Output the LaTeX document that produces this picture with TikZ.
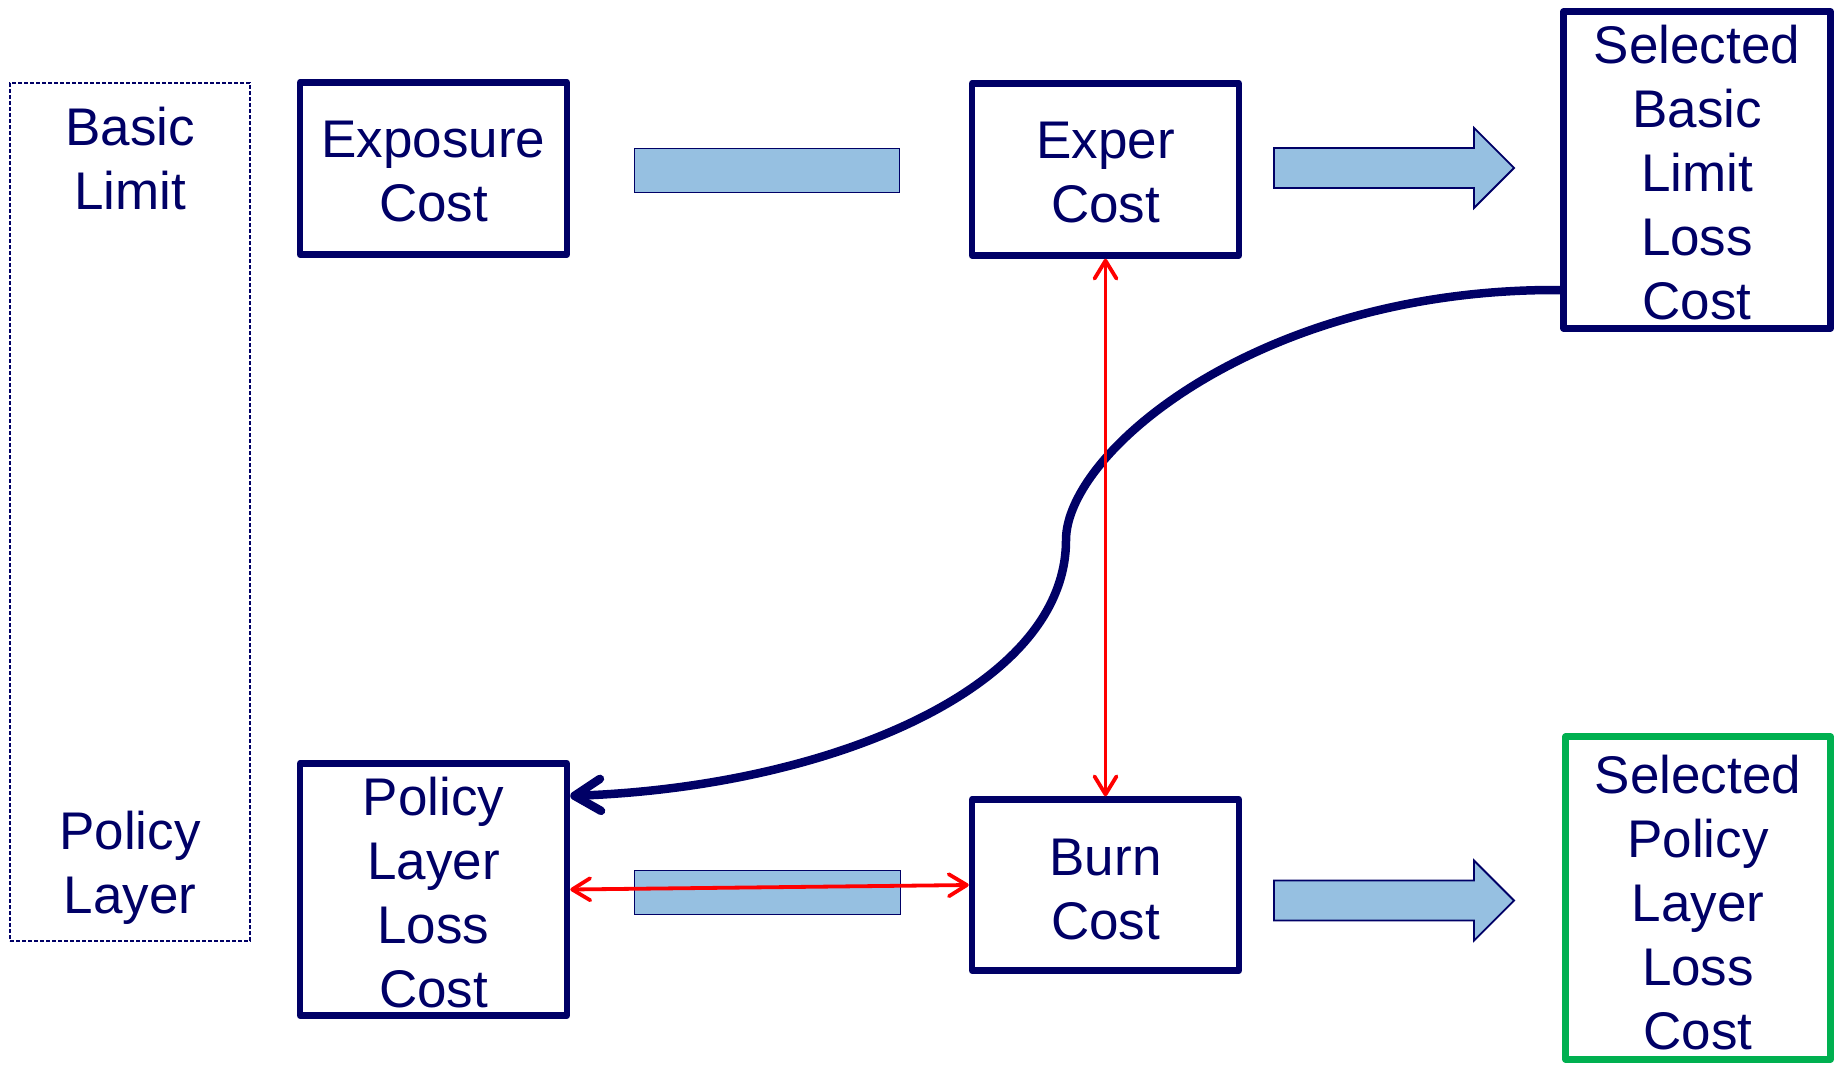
\documentclass[tikz,border=0pt]{standalone}
\usepackage{fontspec}
\setmainfont{Liberation Sans}
\usetikzlibrary{arrows.meta,calc}
\definecolor{navy}{RGB}{0,0,102}
\definecolor{barblue}{RGB}{150,192,225}
\definecolor{okgreen}{RGB}{0,176,80}
\definecolor{linkred}{RGB}{255,0,0}
\begin{document}
\begin{tikzpicture}[x=1pt,y=-1pt,
  lbl/.style={text=navy,align=center,font=\fontsize{53}{64}\selectfont,inner sep=0pt},
  costbox/.style={draw=navy,line width=6.5pt,line join=round,minimum width=267pt,inner sep=0pt},
  bar/.style={draw=navy,fill=barblue,line width=1.8pt,minimum width=265pt,minimum height=44pt,inner sep=0pt},
  flow/.style={draw=navy,fill=barblue,line width=1.8pt,line join=miter},
  link/.style={draw=linkred,line width=3.8pt,{Straight Barb[length=18pt,width=22pt,round]}-{Straight Barb[length=18pt,width=22pt,round]}},
  feedback/.style={draw=navy,line width=8.5pt,-{Straight Barb[length=26pt,width=32pt,round]}}]
\useasboundingbox (0,0) rectangle (1841,1067);

% level frame on the left
\node[draw=navy,line width=1.6pt,dash pattern=on 4pt off 2pt,minimum width=240pt,minimum height=858pt,inner sep=0pt] (frame) at (130,512) {};
\node[lbl] (basic) at (130,159) {Basic\\Limit};
\node[lbl] (layer) at (130,868) {Policy\\Layer};

% cost boxes, with their texts set separately
\node[costbox,minimum height=172pt] (expo) at (433.5,168.5) {};
\node[costbox,minimum height=172pt] (exper) at (1105.5,169.5) {};
\node[costbox,minimum height=317pt] (sbl) at (1697,170) {};
\node[costbox,minimum height=252pt] (plc) at (433.5,889.5) {};
\node[costbox,minimum height=171pt] (burn) at (1105.5,885) {};
\node[costbox,draw=okgreen,minimum width=265pt,minimum height=323pt] (spl) at (1698,898) {};
\node[lbl] (expot) at ([yshift=-3pt]expo.center) {Exposure\\Cost};
\node[lbl] (expert) at ([yshift=-3pt]exper.center) {Exper\\Cost};
\node[lbl] (sblt) at ([yshift=-3pt]sbl.center) {Selected\\Basic\\Limit\\Loss\\Cost};
\node[lbl] (plct) at ([yshift=-3pt]plc.center) {Policy\\Layer\\Loss\\Cost};
\node[lbl] (burnt) at ([yshift=-5pt]burn.center) {Burn\\Cost};
\node[lbl] (splt) at ([yshift=-5pt]spl.center) {Selected\\Policy\\Layer\\Loss\\Cost};

% blue bars between the boxes
\node[bar] (bartop) at (767,170.5) {};
\node[bar,minimum width=266pt] (barbot) at (767.5,892.5) {};

% block arrows into the selected boxes
\draw[flow] (1274,148) -- (1474,148) -- (1474,128) -- (1514,168) -- (1474,208) -- (1474,188) -- (1274,188) -- cycle;
\draw[flow] (1274,880.5) -- (1474,880.5) -- (1474,860.5) -- (1514,900.5) -- (1474,940.5) -- (1474,920.5) -- (1274,920.5) -- cycle;

% feedback curve from the selected basic limit loss cost
\coordinate (fbstart) at ($(sbl.north west)!0.871!(sbl.south west)$);
\coordinate (fbend) at ($(plc.north east)!0.138!(plc.south east)$);
\draw[feedback] (fbstart) .. controls (1260,288) and (1066,452) .. (1066,540)
  .. controls (1066,690) and (825,787) .. (fbend);

% red two-way links
\draw[link] (exper.south) -- (burn.north);
\draw[link] (plc.east) -- (burn.west);
\end{tikzpicture}
\end{document}
